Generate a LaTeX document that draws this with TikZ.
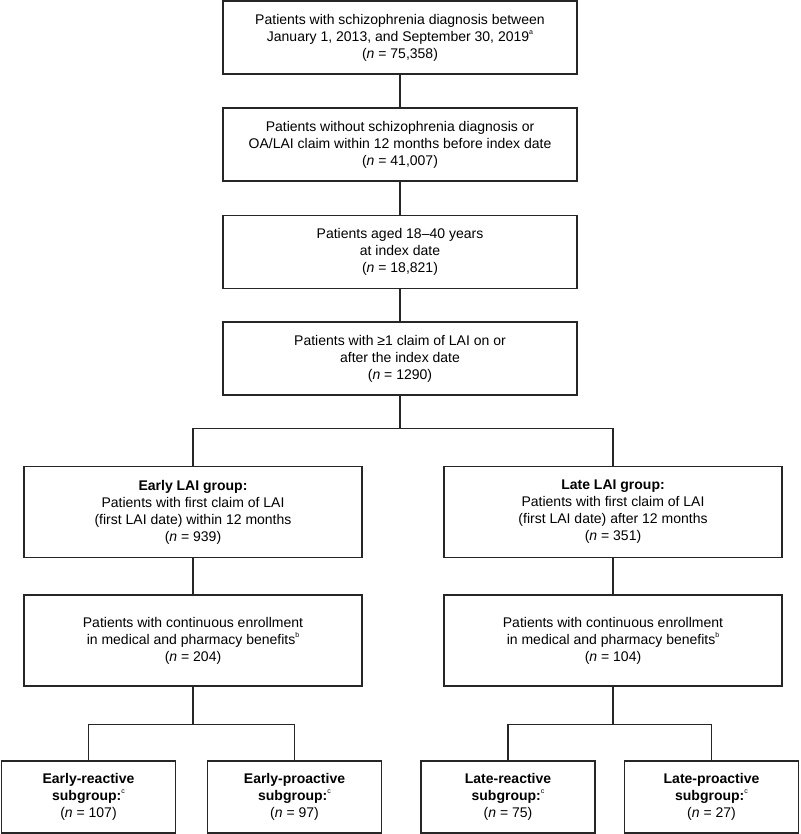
\documentclass[tikz,border=0pt]{standalone}
\usepackage{fontspec}
\setmainfont{Liberation Sans}
\tikzset{box/.style={draw=black!85,line width=1.5pt,align=center,inner sep=2pt,
    font=\fontsize{14}{17}\selectfont},
  wide/.style={box,minimum width=354pt,minimum height=73pt},
  half/.style={box,minimum width=338pt,minimum height=91pt},
  leaf/.style={box,minimum width=174pt,minimum height=72pt},
  link/.style={draw=black!85,line width=1.2pt}}
\newcommand\fnm[1]{\raisebox{0.5em}{\fontsize{7}{7}\selectfont #1}}
\newcommand\nval[1]{(\textit{n} = #1)}

\begin{document}
\begin{tikzpicture}[x=1pt,y=-1pt]
  \useasboundingbox (0,0) rectangle (800,834);
  % main column
  \node[wide] (diag) at (400,37.5) {Patients with schizophrenia diagnosis between\\January 1, 2013, and September 30, 2019\fnm{a}\\\nval{75,358}};
  \node[wide] (excl) at (400,144.5) {Patients without schizophrenia diagnosis or\\OA/LAI claim within 12 months before index date\\\nval{41,007}};
  \node[wide] (age) at (400,252) {Patients aged 18--40 years\\at index date\\\nval{18,821}};
  \node[wide] (lai) at (400,358.5) {Patients with \char"2265 1 claim of LAI on or\\after the index date\\\nval{1290}};
  \draw[link] (diag) -- (excl);
  \draw[link] (excl) -- (age);
  \draw[link] (age) -- (lai);
  % early / late groups
  \node[half] (early) at (193,512) {\textbf{Early LAI group:}\\Patients with first claim of LAI\\(first LAI date) within 12 months\\\nval{939}};
  \node[half] (late) at (613,512) {\textbf{Late LAI group:}\\Patients with first claim of LAI\\(first LAI date) after 12 months\\\nval{351}};
  \draw[link] (lai.south) -- ++(0,33) coordinate (split);
  \draw[link] (early.north) |- (split) -| (late.north);
  \node[half] (eenrol) at (193,640.5) {Patients with continuous enrollment\\in medical and pharmacy benefits\fnm{b}\\\nval{204}};
  \node[half] (lenrol) at (613,640.5) {Patients with continuous enrollment\\in medical and pharmacy benefits\fnm{b}\\\nval{104}};
  \draw[link] (early) -- (eenrol);
  \draw[link] (late) -- (lenrol);
  % subgroups
  \node[leaf] (ereact) at (88.5,797) {\textbf{Early-reactive}\\\textbf{subgroup:}\fnm{c}\\\nval{107}};
  \node[leaf] (eproact) at (294.5,797) {\textbf{Early-proactive}\\\textbf{subgroup:}\fnm{c}\\\nval{97}};
  \node[leaf] (lreact) at (508,797) {\textbf{Late-reactive}\\\textbf{subgroup:}\fnm{c}\\\nval{75}};
  \node[leaf] (lproact) at (711.5,797) {\textbf{Late-proactive}\\\textbf{subgroup:}\fnm{c}\\\nval{27}};
  \draw[link] (eenrol.south) -- ++(0,38) coordinate (esplit);
  \draw[link] (ereact.north) |- (esplit) -| (eproact.north);
  \draw[link] (lenrol.south) -- ++(0,38) coordinate (lsplit);
  \draw[link] (lreact.north) |- (lsplit) -| (lproact.north);
\end{tikzpicture}
\end{document}
